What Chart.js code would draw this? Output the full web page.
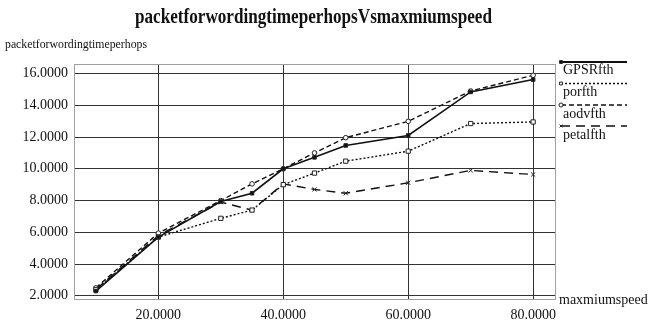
<!DOCTYPE html>
<html>
<head>
<meta charset="utf-8">
<script src="https://cdn.jsdelivr.net/npm/chart.js@4/dist/chart.umd.min.js"></script>
<style>
html,body{margin:0;padding:0;background:#fff;}
#wrap{position:relative;width:665px;height:322px;}
</style>
</head>
<body>
<div id="wrap"><canvas id="c" width="665" height="322"></canvas></div>
<script>
const chartTitle = "packetforwordingtimeperhopsVsmaxmiumspeed";
const yAxisTitle = "packetforwordingtimeperhops";
const xAxisTitle = "maxmiumspeed";
const speeds = [10, 20, 30, 35, 40, 45, 50, 60, 70, 80];
const seriesNames = ["GPSRfth", "porfth", "aodvfth", "petalfth"];
const gpsrValues  = [2.30, 5.70, 7.94, 8.46, 10.00, 10.72, 11.47, 12.10, 14.84, 15.62];
const porfValues  = [2.40, 5.70, 6.88, 7.40, 9.00, 9.73, 10.48, 11.11, 12.85, 12.95];
const aodvValues  = [2.50, 5.95, 8.00, 9.05, 10.00, 11.00, 11.96, 12.99, 14.90, 15.89];
const petalValues = [2.40, 5.80, 7.90, 7.40, 9.05, 8.70, 8.46, 9.12, 9.90, 9.64];
const xTicks = [20, 40, 60, 80];
const yTicks = [2, 4, 6, 8, 10, 12, 14, 16];

const SERIF = '"Liberation Serif", "DejaVu Serif", serif';
const styles = [
  {dash: [], width: 1.6, point: 'rect', r: 2.5, fill: '#111', lw: 2},
  {dash: [2, 2], width: 1.4, point: 'rect', r: 3, fill: '#fff', lw: 1.4},
  {dash: [5, 3], width: 1.4, point: 'circle', r: 2.3, fill: '#fff', lw: 1.4},
  {dash: [9, 6], width: 1.4, point: 'crossRot', r: 3, fill: '#fff', lw: 1.4}
];
const allValues = [gpsrValues, porfValues, aodvValues, petalValues];

const datasets = allValues.map((vals, i) => ({
  label: seriesNames[i],
  data: speeds.map((s, j) => ({x: s, y: vals[j]})),
  borderColor: '#111',
  borderWidth: styles[i].width,
  borderDash: styles[i].dash,
  pointStyle: styles[i].point,
  pointRadius: styles[i].r,
  pointBorderWidth: 1,
  pointBackgroundColor: styles[i].fill,
  pointBorderColor: '#222',
  tension: 0,
  fill: false
}));

function drawFitted(ctx, text, x, y, width, font) {
  ctx.save();
  ctx.font = font;
  const w = ctx.measureText(text).width;
  const s = width / w;
  ctx.translate(x, y);
  ctx.scale(s, 1);
  ctx.textAlign = 'left';
  ctx.fillText(text, 0, 0);
  ctx.restore();
}

const decor = {
  id: 'decor',
  beforeDatasetsDraw(chart) {
    const {ctx, chartArea: a} = chart;
    ctx.save();
    ctx.strokeStyle = '#a0a0a0';
    ctx.lineWidth = 1;
    ctx.strokeRect(Math.round(a.left) + 0.5, Math.round(a.top) + 0.5,
                   Math.round(a.right - a.left), Math.round(a.bottom - a.top));
    ctx.restore();
  },
  afterDraw(chart) {
    const {ctx} = chart;
    ctx.save();
    ctx.fillStyle = '#111';
    ctx.textBaseline = 'alphabetic';
    drawFitted(ctx, chartTitle, 135, 23, 357, 'bold 21px ' + SERIF);
    drawFitted(ctx, yAxisTitle, 5, 48, 142, '13px ' + SERIF);
    ctx.font = '14px ' + SERIF;
    ctx.textBaseline = 'middle';
    ctx.fillText(xAxisTitle, 559, 300);
    const lineY = [62, 83.5, 105, 126];
    const labelY = [70.5, 92.5, 114, 135.5];
    const x0 = 561, x1 = 627;
    chart.data.datasets.forEach((ds, i) => {
      ctx.save();
      ctx.strokeStyle = '#111';
      ctx.lineWidth = styles[i].lw;
      ctx.setLineDash(ds.borderDash);
      ctx.beginPath();
      ctx.moveTo(x0, lineY[i]);
      ctx.lineTo(x1, lineY[i]);
      ctx.stroke();
      ctx.setLineDash([]);
      ctx.lineWidth = 1;
      ctx.fillStyle = ds.pointBackgroundColor;
      ctx.strokeStyle = '#222';
      Chart.helpers.drawPoint(ctx, {pointStyle: ds.pointStyle, radius: 2, borderWidth: 1}, x0, lineY[i]);
      ctx.restore();
      ctx.fillStyle = '#111';
      ctx.font = '14px ' + SERIF;
      ctx.textBaseline = 'middle';
      ctx.fillText(ds.label, 563, labelY[i]);
    });
    ctx.restore();
  }
};

new Chart(document.getElementById('c'), {
  type: 'line',
  data: {datasets},
  plugins: [decor],
  options: {
    responsive: false,
    animation: false,
    devicePixelRatio: 1,
    layout: {padding: {left: 0, top: 64, right: 110, bottom: 0}},
    plugins: {legend: {display: false}, title: {display: false}, tooltip: {enabled: false}},
    scales: {
      x: {
        type: 'linear',
        min: 6.5, max: 83.5,
        afterBuildTicks: s => { s.ticks = xTicks.map(v => ({value: v})); },
        afterFit: s => { s.height = 23; },
        grid: {color: '#333', lineWidth: 1, drawTicks: false},
        border: {display: false},
        ticks: {padding: 8, color: '#111', font: {family: SERIF, size: 14},
                maxRotation: 0, callback: v => Number(v).toFixed(4)}
      },
      y: {
        min: 1.8, max: 16.6,
        afterBuildTicks: s => { s.ticks = yTicks.map(v => ({value: v})); },
        afterFit: s => { s.width = 74; },
        grid: {color: '#333', lineWidth: 1, drawTicks: false},
        border: {display: false},
        ticks: {padding: 6, color: '#111', font: {family: SERIF, size: 14},
                callback: v => Number(v).toFixed(4)}
      }
    }
  }
});
</script>
</body>
</html>
